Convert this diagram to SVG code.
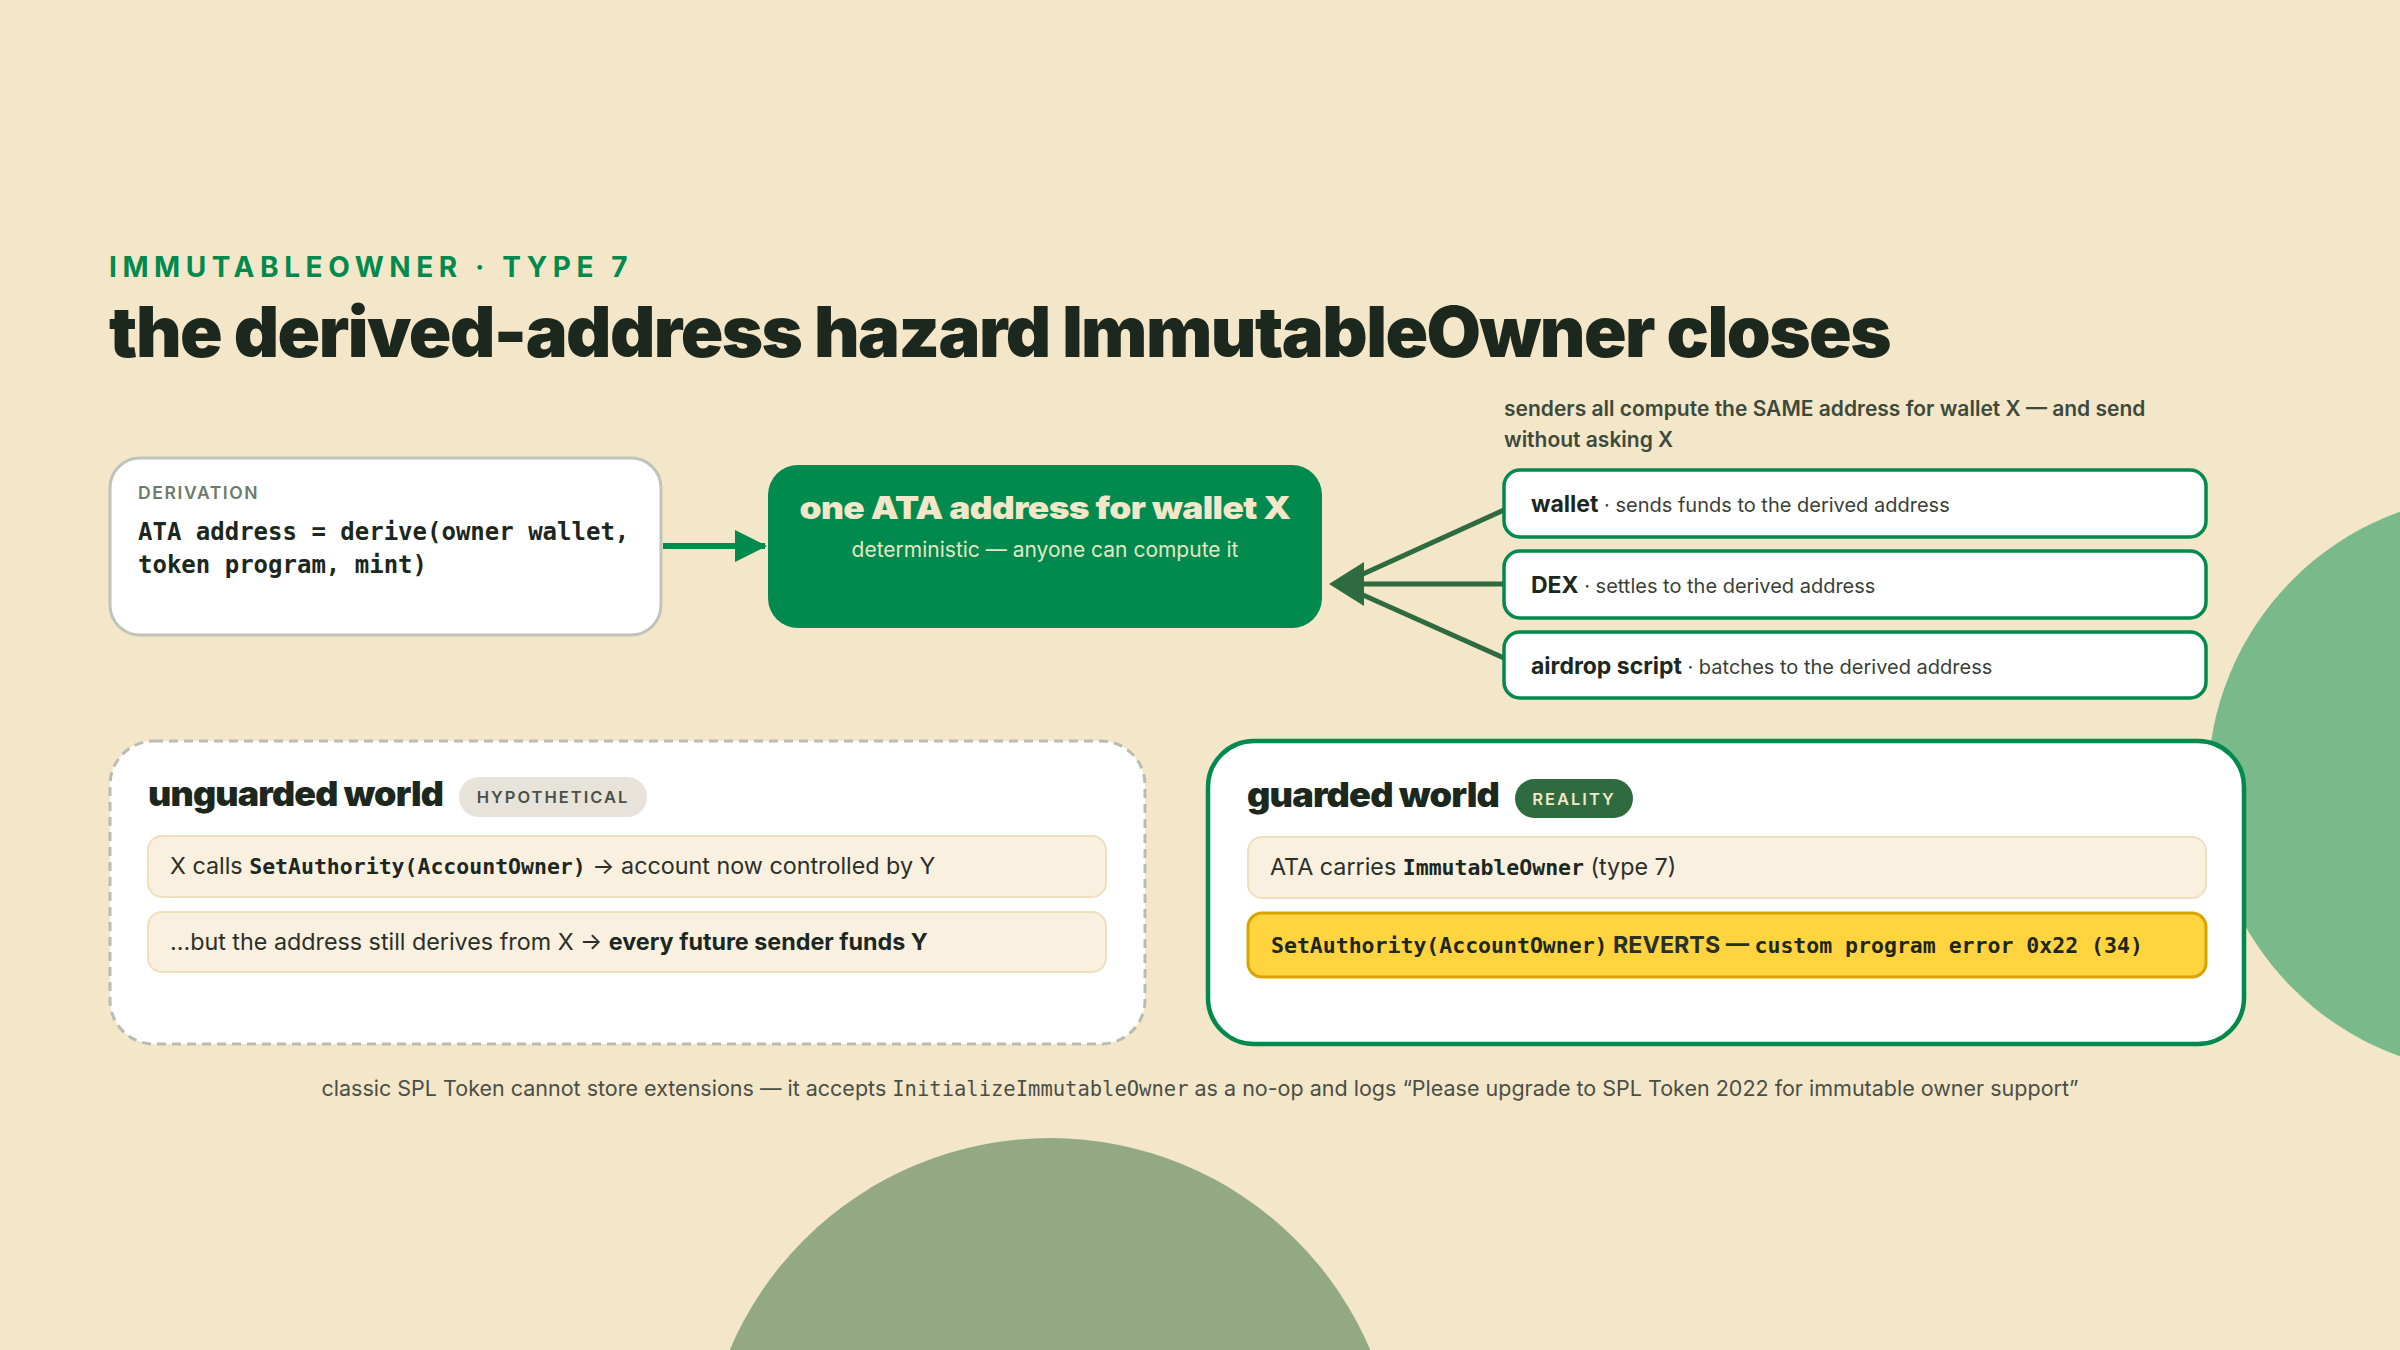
<svg xmlns="http://www.w3.org/2000/svg" width="2400" height="1350" viewBox="0 0 2400 1350">
<defs>
<style>
.sans{font-family:Inter,"Noto Sans","Liberation Sans",sans-serif}
.mono{font-family:"DejaVu Sans Mono","Liberation Mono",monospace}
.h{font-family:Inter,"Noto Sans","Liberation Sans",sans-serif;font-weight:900;fill:#1C271E}
.card{fill:#FFFFFF}
.row{fill:#F9F0E0;stroke:#EEDFBF;stroke-width:2}
.sender{fill:#FFFFFF;stroke:#008A4E;stroke-width:3.5}
.lbl{font-family:Inter,"Noto Sans","Liberation Sans",sans-serif;font-weight:700;font-size:23px;fill:#1C271E}
.desc{font-family:Inter,"Noto Sans","Liberation Sans",sans-serif;font-weight:400;font-size:20px;fill:#3A3F38}
.body{font-family:Inter,"Noto Sans","Liberation Sans",sans-serif;font-size:23.3px;fill:#2A2F28}
.code{font-family:"DejaVu Sans Mono","Liberation Mono",monospace;font-weight:700;font-size:21.5px;fill:#1C271E}
.conn{stroke:#2E6B3F;stroke-width:5;fill:none}
</style>
</defs>
<rect x="0" y="0" width="2400" height="1350" fill="#F4E6C9"/>
<g id="background">
<circle cx="2497" cy="784" r="289" fill="#7AB98A"/>
<circle cx="1050" cy="1486" r="348" fill="#93A983"/>
</g>
<g id="heading">
<text x="109" y="277" class="sans" font-size="28" font-weight="700" fill="#008A4E" letter-spacing="4.5" textLength="523" lengthAdjust="spacing">IMMUTABLEOWNER · TYPE 7</text>
<text x="109" y="357" class="h" font-size="70" letter-spacing="-1.5" textLength="1781" lengthAdjust="spacingAndGlyphs">the derived-address hazard ImmutableOwner closes</text>
</g>
<g id="connectors">
<line x1="663" y1="546" x2="765" y2="546" stroke="#008A4E" stroke-width="6"/>
<path d="M735,530 L767,546 L735,562 z" fill="#008A4E"/>
<line class="conn" x1="1504" y1="510" x2="1363" y2="574"/>
<line class="conn" x1="1504" y1="584" x2="1363" y2="584"/>
<line class="conn" x1="1504" y1="658" x2="1363" y2="595"/>
<path d="M1329,584 L1364,562 L1364,606 z" fill="#2E6B3F"/>
</g>
<g id="derivation">
<rect x="110" y="458" width="551" height="177" rx="30" class="card" stroke="#BFC3BA" stroke-width="3"/>
<text x="138" y="499" class="sans" font-size="17.5" font-weight="600" fill="#6E7A6A" letter-spacing="1.6">DERIVATION</text>
<text x="138" y="540" class="mono" font-size="24" font-weight="700" fill="#1C271E">ATA address = derive(owner wallet,</text>
<text x="138" y="573" class="mono" font-size="24" font-weight="700" fill="#1C271E">token program, mint)</text>
</g>
<g id="ata-address">
<rect x="768" y="465" width="554" height="163" rx="30" fill="#008A4E"/>
<text x="1045" y="519" class="sans" text-anchor="middle" font-size="31" font-weight="900" fill="#F4E6C9" letter-spacing="-0.5" textLength="491" lengthAdjust="spacingAndGlyphs">one ATA address for wallet X</text>
<text x="1045" y="557" class="sans" text-anchor="middle" font-size="21" font-weight="400" fill="#E4E6C4">deterministic — anyone can compute it</text>
</g>
<g id="senders-caption">
<text x="1504" y="416" class="sans" font-size="21" font-weight="600" fill="#3D4A3B">senders all compute the SAME address for wallet X — and send</text>
<text x="1504" y="447" class="sans" font-size="21" font-weight="600" fill="#3D4A3B">without asking X</text>
</g>
<g id="sender-wallet">
<rect x="1504" y="470" width="702" height="67" rx="16" class="sender"/>
<text x="1531" y="512"><tspan class="lbl">wallet</tspan><tspan class="desc"> · sends funds to the derived address</tspan></text>
</g>
<g id="sender-dex">
<rect x="1504" y="551" width="702" height="67" rx="16" class="sender"/>
<text x="1531" y="593"><tspan class="lbl">DEX</tspan><tspan class="desc"> · settles to the derived address</tspan></text>
</g>
<g id="sender-airdrop">
<rect x="1504" y="632" width="702" height="66" rx="16" class="sender"/>
<text x="1531" y="674"><tspan class="lbl">airdrop script</tspan><tspan class="desc"> · batches to the derived address</tspan></text>
</g>
<g id="unguarded-world">
<rect x="110" y="741" width="1035" height="303" rx="44" class="card" stroke="#B9BCB3" stroke-width="3" stroke-dasharray="9 6"/>
<text x="148" y="806" class="h" font-size="34" letter-spacing="-0.8" textLength="295" lengthAdjust="spacingAndGlyphs">unguarded world</text>
<rect x="459" y="777" width="188" height="40" rx="20" fill="#E8E3DA"/>
<text x="553" y="803" class="sans" text-anchor="middle" font-size="16.5" font-weight="600" fill="#4B5048" letter-spacing="2">HYPOTHETICAL</text>
<rect x="148" y="836" width="958" height="61" rx="14" class="row"/>
<text x="170" y="874" class="body">X calls <tspan class="code">SetAuthority(AccountOwner)</tspan> → account now controlled by Y</text>
<rect x="148" y="912" width="958" height="60" rx="14" class="row"/>
<text x="170" y="950" class="body">...but the address still derives from X → <tspan font-weight="700" fill="#1C271E">every future sender funds Y</tspan></text>
</g>
<g id="guarded-world">
<rect x="1208" y="741" width="1036" height="303" rx="46" class="card" stroke="#008A4E" stroke-width="4.5"/>
<text x="1247" y="807" class="h" font-size="34" letter-spacing="-0.8" textLength="252" lengthAdjust="spacingAndGlyphs">guarded world</text>
<rect x="1515" y="779" width="118" height="39" rx="19.5" fill="#2E6B3F"/>
<text x="1574" y="805" class="sans" text-anchor="middle" font-size="16.5" font-weight="600" fill="#F4E6C9" letter-spacing="2">REALITY</text>
<rect x="1248" y="837" width="958" height="61" rx="14" class="row"/>
<text x="1270" y="875" class="body">ATA carries <tspan class="code">ImmutableOwner</tspan> (type 7)</text>
<rect x="1248" y="913" width="958" height="64" rx="14" fill="#FFD43F" stroke="#D9A400" stroke-width="3"/>
<text x="1271" y="953"><tspan class="code">SetAuthority(AccountOwner)</tspan><tspan class="body" font-weight="700" fill="#1C271E"> REVERTS — </tspan><tspan class="code">custom program error 0x22 (34)</tspan></text>
</g>
<g id="footer">
<text x="1200" y="1096" class="sans" text-anchor="middle" font-size="21.5" fill="#4A4F46">classic SPL Token cannot store extensions — it accepts <tspan class="mono" font-size="20.5">InitializeImmutableOwner</tspan> as a no-op and logs “Please upgrade to SPL Token 2022 for immutable owner support”</text>
</g>
</svg>
